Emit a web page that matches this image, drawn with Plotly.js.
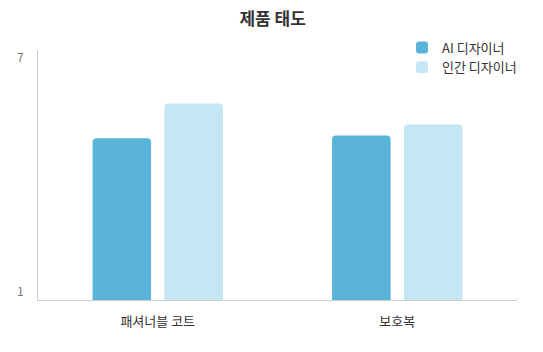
<!DOCTYPE html>
<html>
<head>
<meta charset="utf-8">
<script src="https://cdn.plot.ly/plotly-3.0.1.min.js"></script>
<style>html,body{margin:0;padding:0;background:#fff;}#chart{width:543px;height:352px;}</style>
</head>
<body>
<div id="chart"></div>
<script>
const categories = ["패셔너블 코트", "보호복"];
const seriesNames = ["AI 디자이너", "인간 디자이너"];
const aiValues = [4.94, 5.01];
const humanValues = [5.83, 5.29];
const yTicks = [1, 7];
const colors = ["#5ab4da", "#c5e6f3"];

const font = "'Noto Sans CJK KR', 'Noto Sans', sans-serif";

const traces = [
  {type: "bar", name: seriesNames[0], x: categories, y: aiValues, marker: {color: colors[0]}, hoverinfo: "y"},
  {type: "bar", name: seriesNames[1], x: categories, y: humanValues, marker: {color: colors[1]}, hoverinfo: "y"}
];

const layout = {
  width: 543, height: 352,
  margin: {l: 38, r: 26, t: 50, b: 52},
  paper_bgcolor: "#fff", plot_bgcolor: "#fff",
  font: {family: font, color: "#333"},
  title: {text: "<b>제품 태도</b>", x: 0.49, xref: "paper", xanchor: "center", y: 0.946, yref: "container", yanchor: "middle",
    font: {family: font, size: 17, color: "#333"}},
  barmode: "group", bargap: 0.4, bargroupgap: 0.185, barcornerradius: 4,
  xaxis: {showline: true, linecolor: "#cccccc", linewidth: 1, showgrid: false, zeroline: false, ticks: "",
    ticklabelstandoff: 9,
    tickfont: {family: font, size: 13, color: "#333"}, fixedrange: true},
  yaxis: {range: [0.8, 7.2], tickvals: yTicks, ticktext: yTicks.map(String), showline: true, linecolor: "#cccccc", linewidth: 1,
    showgrid: false, zeroline: false, ticks: "", ticklabelstandoff: 11,
    tickfont: {family: font, size: 12, color: "#777"}, fixedrange: true},
  showlegend: true,
  legend: {x: 0.76, xanchor: "left", y: 1.07, yanchor: "top", bgcolor: "rgba(0,0,0,0)",
    font: {family: font, size: 13, color: "#333"}, itemwidth: 30, tracegroupgap: 0}
};

Plotly.newPlot("chart", traces, layout, {displayModeBar: false, staticPlot: true});
</script>
</body>
</html>
